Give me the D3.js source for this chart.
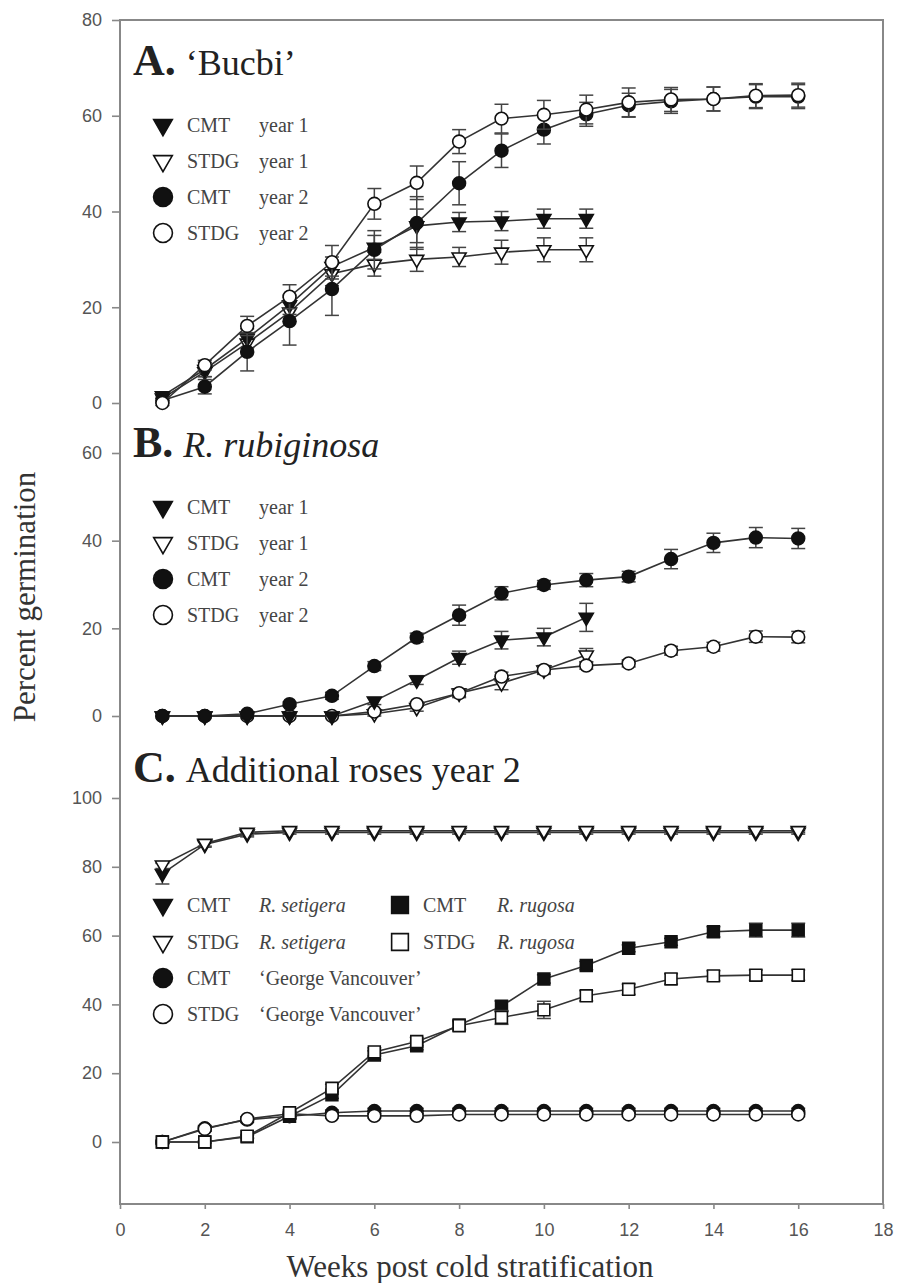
<!DOCTYPE html>
<html>
<head>
<meta charset="utf-8">
<script src="https://d3js.org/d3.v7.min.js"></script>
<style>
  body { margin: 0; background: #fff; }
  svg { display: block; }
  .tick text { font-family: "Liberation Sans", Arial, sans-serif; font-size: 18px; fill: #555; }
  .tick line { stroke: #888; stroke-width: 1.6; }
  .serif { font-family: "Liberation Serif", "Times New Roman", serif; }
</style>
</head>
<body>
<div id="chart-area"></div>
<script>
// weeks post cold stratification
var weeks = [1, 2, 3, 4, 5, 6, 7, 8, 9, 10, 11, 12, 13, 14, 15, 16];
var xTicks = [0, 2, 4, 6, 8, 10, 12, 14, 16, 18];

// Panel A  'Bucbi'
var aCmtY1     = [1.5, 7, 13.5, 20.5, 28.5, 32.5, 37, 37.8, 38, 38.5, 38.5];
var aCmtY1Err  = [0.5, 1.5, 2, 2, 2, 2.5, 3.5, 2, 2, 2, 2];
var aStdgY1    = [1, 6.5, 12.5, 19, 27, 29, 30, 30.5, 31.5, 32, 32];
var aStdgY1Err = [0.5, 1, 2, 2, 2.5, 2.5, 2.5, 2, 2.5, 2.5, 2.5];
var aCmtY2     = [0.5, 3.4, 10.7, 17.1, 23.8, 32, 37.6, 45.9, 52.7, 57.1, 60.3, 62.2, 63, 63.5, 64, 64];
var aCmtY2Err  = [0.5, 1.5, 4, 5, 5.5, 4, 5.5, 4.5, 3.5, 3, 2.5, 2.5, 2.5, 2.5, 2.5, 2.5];
var aStdgY2    = [0, 7.9, 16.1, 22.2, 29.4, 41.6, 46, 54.6, 59.4, 60.2, 61.3, 62.8, 63.4, 63.5, 64.2, 64.3];
var aStdgY2Err = [0.5, 1, 2, 2.5, 3.5, 3.2, 3.5, 2.5, 3, 3, 3, 3, 2.5, 2.5, 2.5, 2.5];
var aTicks = [0, 20, 40, 60, 80];

// Panel B  R. rubiginosa
var bCmtY1     = [0, 0, 0, 0, 0, 3.4, 8.2, 13.3, 17.3, 18, 22.5];
var bCmtY1Err  = [0, 0, 0, 0, 0, 0.8, 1, 1.5, 2, 2, 3.2];
var bStdgY1    = [0, 0, 0, 0, 0, 0.5, 1.9, 5.2, 7.5, 10.5, 13.9];
var bStdgY1Err = [0, 0, 0, 0, 0, 0.5, 0.8, 1, 1.5, 1, 1.5];
var bCmtY2     = [0, 0, 0.5, 2.7, 4.6, 11.4, 17.9, 23, 28, 29.9, 31, 31.8, 35.8, 39.5, 40.7, 40.5];
var bCmtY2Err  = [0, 0, 0.3, 0.5, 0.8, 1, 1, 2.3, 1.5, 1, 1.5, 1.2, 2.2, 2.2, 2.3, 2.3];
var bStdgY2    = [0, 0, 0, 0, 0, 1, 2.7, 5.2, 9, 10.5, 11.5, 12, 14.9, 15.8, 18.1, 18];
var bStdgY2Err = [0, 0, 0, 0, 0, 0.5, 0.5, 0.8, 1, 0.8, 0.8, 0.8, 1, 1, 1.3, 1.3];
var bTicks = [0, 20, 40, 60];

// Panel C  additional roses year 2
var cCmtSet     = [78, 86.5, 89.5, 90, 90, 90, 90, 90, 90, 90, 90, 90, 90, 90, 90, 90];
var cCmtSetErr  = [3, 0.8, 0.8, 0.5, 0.5, 0.5, 0.5, 0.5, 0.5, 0.5, 0.5, 0.5, 0.5, 0.5, 0.5, 0.5];
var cStdgSet    = [80.5, 86.8, 90, 90.5, 90.5, 90.5, 90.5, 90.5, 90.5, 90.5, 90.5, 90.5, 90.5, 90.5, 90.5, 90.5];
var cStdgSetErr = [1, 0.8, 0.8, 0.5, 0.5, 0.5, 0.5, 0.5, 0.5, 0.5, 0.5, 0.5, 0.5, 0.5, 0.5, 0.5];
var cCmtGV      = [0, 4, 6.5, 7.5, 8.5, 9, 9, 9, 9, 9, 9, 9, 9, 9, 9, 9];
var cCmtGVErr   = [0.3, 0.8, 0.8, 0.8, 0.8, 0.8, 0.8, 0.8, 0.8, 0.8, 0.8, 0.8, 0.8, 0.8, 0.8, 0.8];
var cStdgGV     = [0, 3.8, 6.7, 8.2, 7.6, 7.6, 7.6, 8, 8, 8, 8, 8, 8, 8, 8, 8];
var cStdgGVErr  = [0.3, 0.6, 0.6, 0.6, 0.6, 0.6, 0.6, 0.6, 0.6, 0.6, 0.6, 0.6, 0.6, 0.6, 0.6, 0.6];
var cCmtRug     = [0, 0, 1.5, 7.5, 13.7, 25.3, 28, 34, 39.5, 47.4, 51.3, 56.3, 58.2, 61.1, 61.6, 61.6];
var cCmtRugErr  = [0.3, 0.3, 0.5, 0.8, 1, 1.2, 1.2, 1.2, 1.5, 1.2, 1.2, 1, 1, 1.5, 2, 2];
var cStdgRug    = [0, 0, 1.7, 8.5, 15.6, 26.2, 29.2, 33.8, 36.2, 38.4, 42.5, 44.4, 47.4, 48.3, 48.5, 48.5];
var cStdgRugErr = [0.3, 0.3, 0.5, 0.8, 1.2, 1.2, 1.2, 1.2, 2, 2.5, 1.5, 1.5, 1.5, 1.5, 1.5, 1.5];
var cTicks = [0, 20, 40, 60, 80, 100];

var W = 897, H = 1283;
var frame = { left: 120, right: 883, top: 20, bottom: 1204 };

var svg = d3.select("#chart-area")
    .append("svg")
        .attr("width", W)
        .attr("height", H);

var x = d3.scaleLinear().domain([0, 18]).range([frame.left, frame.right]);

// each panel gets its own y scale on the shared axis
var yA = d3.scaleLinear().domain([0, 80]).range([403, 20]);
var yB = d3.scaleLinear().domain([0, 60]).range([716, 453]);
var yC = d3.scaleLinear().domain([0, 100]).range([1142, 798]);

var lineCol = "#333";

// marker shapes: [d3 symbol type, filled?, rotation]
var shapes = {
    triFill:  [d3.symbolTriangle, true, 180],
    triOpen:  [d3.symbolTriangle, false, 180],
    circFill: [d3.symbolCircle, true, 0],
    circOpen: [d3.symbolCircle, false, 0],
    sqFill:   [d3.symbolSquare, true, 0],
    sqOpen:   [d3.symbolSquare, false, 0]
};
var dataSize = { triFill: 85, triOpen: 85, circFill: 130, circOpen: 130, sqFill: 140, sqOpen: 140 };
var legendSize = { triFill: 150, triOpen: 150, circFill: 280, circOpen: 280, sqFill: 280, sqOpen: 280 };

function symbolPath(shape, size) {
    return d3.symbol().type(shapes[shape][0]).size(size)();
}

function drawMarker(sel, shape, size, cx, cy) {
    sel.append("path")
        .attr("d", symbolPath(shape, size))
        .attr("transform", "translate(" + cx + "," + cy + ") rotate(" + shapes[shape][2] + ")")
        .attr("fill", shapes[shape][1] ? "#111" : "#fff")
        .attr("stroke", "#111")
        .attr("stroke-width", 1.6);
}

function drawSeries(y, vals, errs, shape) {
    var pts = vals.map(function(v, i) { return { wk: weeks[i], v: v, e: errs[i] }; });
    var g = svg.append("g");

    // error bars
    var capW = 7;
    pts.forEach(function(d) {
        if (d.e <= 0) return;
        var cx = x(d.wk), y1 = y(d.v + d.e), y0 = y(d.v - d.e);
        g.append("line").attr("x1", cx).attr("x2", cx).attr("y1", y1).attr("y2", y0)
            .attr("stroke", "#444").attr("stroke-width", 1.5);
        [y1, y0].forEach(function(yy) {
            g.append("line").attr("x1", cx - capW).attr("x2", cx + capW).attr("y1", yy).attr("y2", yy)
                .attr("stroke", "#444").attr("stroke-width", 1.5);
        });
    });

    var line = d3.line()
        .x(function(d) { return x(d.wk); })
        .y(function(d) { return y(d.v); });

    g.append("path")
        .datum(pts)
        .attr("d", line)
        .attr("fill", "none")
        .attr("stroke", lineCol)
        .attr("stroke-width", 1.6);

    pts.forEach(function(d) {
        drawMarker(g, shape, dataSize[shape], x(d.wk), y(d.v));
    });
}

function drawLegend(rows, sx, tx1, tx2) {
    rows.forEach(function(r) {
        drawMarker(svg, r.shape, legendSize[r.shape], sx, r.cy);
        svg.append("text").attr("class", "serif")
            .attr("x", tx1).attr("y", r.cy + 7)
            .attr("font-size", "20px").attr("fill", "#444")
            .text(r.t1);
        svg.append("text").attr("class", "serif")
            .attr("x", tx2).attr("y", r.cy + 7)
            .attr("font-size", "20px").attr("fill", "#444")
            .attr("font-style", r.italic ? "italic" : "normal")
            .text(r.t2);
    });
}

function drawTitle(letter, rest, italic, baseY) {
    var t = svg.append("text").attr("class", "serif")
        .attr("x", 133).attr("y", baseY).attr("fill", "#222");
    t.append("tspan").attr("font-size", "44px").attr("font-weight", "bold").text(letter);
    t.append("tspan").attr("font-size", "36px").attr("dx", 10)
        .attr("font-style", italic ? "italic" : "normal").text(rest);
}

// frame
svg.append("rect")
    .attr("x", frame.left).attr("y", frame.top)
    .attr("width", frame.right - frame.left).attr("height", frame.bottom - frame.top)
    .attr("fill", "none").attr("stroke", "#888").attr("stroke-width", 2);

// Y axes (one per panel, on the same left line)
[[yA, aTicks], [yB, bTicks], [yC, cTicks]].forEach(function(p) {
    var ax = svg.append("g")
        .attr("transform", "translate(" + frame.left + ",0)")
        .call(d3.axisLeft(p[0]).tickValues(p[1]).tickSize(8).tickPadding(10));
    ax.select(".domain").remove();
});

// X axis
var xAxisGroup = svg.append("g")
    .attr("transform", "translate(0," + frame.bottom + ")")
    .call(d3.axisBottom(x).tickValues(xTicks).tickSize(5).tickPadding(14));
xAxisGroup.select(".domain").remove();

// Labels
svg.append("text").attr("class", "serif")
    .attr("x", 470).attr("y", 1277)
    .attr("font-size", "31px").attr("fill", "#333")
    .attr("text-anchor", "middle")
    .text("Weeks post cold stratification");

svg.append("text").attr("class", "serif")
    .attr("transform", "translate(35,597) rotate(-90)")
    .attr("font-size", "31px").attr("fill", "#333")
    .attr("text-anchor", "middle")
    .text("Percent germination");

// Panel A
drawTitle("A.", "\u2018Bucbi\u2019", false, 75);
drawSeries(yA, aStdgY1, aStdgY1Err, "triOpen");
drawSeries(yA, aCmtY1, aCmtY1Err, "triFill");
drawSeries(yA, aCmtY2, aCmtY2Err, "circFill");
drawSeries(yA, aStdgY2, aStdgY2Err, "circOpen");
drawLegend([
    { shape: "triFill", cy: 125, t1: "CMT", t2: "year 1" },
    { shape: "triOpen", cy: 161, t1: "STDG", t2: "year 1" },
    { shape: "circFill", cy: 197, t1: "CMT", t2: "year 2" },
    { shape: "circOpen", cy: 233, t1: "STDG", t2: "year 2" }
], 163, 187, 259);

// Panel B
drawTitle("B.", "R. rubiginosa", true, 457);
drawSeries(yB, bStdgY1, bStdgY1Err, "triOpen");
drawSeries(yB, bStdgY2, bStdgY2Err, "circOpen");
drawSeries(yB, bCmtY1, bCmtY1Err, "triFill");
drawSeries(yB, bCmtY2, bCmtY2Err, "circFill");
drawLegend([
    { shape: "triFill", cy: 507, t1: "CMT", t2: "year 1" },
    { shape: "triOpen", cy: 543, t1: "STDG", t2: "year 1" },
    { shape: "circFill", cy: 579, t1: "CMT", t2: "year 2" },
    { shape: "circOpen", cy: 615, t1: "STDG", t2: "year 2" }
], 163, 187, 259);

// Panel C
drawTitle("C.", "Additional roses year 2", false, 782);
drawSeries(yC, cCmtSet, cCmtSetErr, "triFill");
drawSeries(yC, cStdgSet, cStdgSetErr, "triOpen");
drawSeries(yC, cCmtGV, cCmtGVErr, "circFill");
drawSeries(yC, cStdgGV, cStdgGVErr, "circOpen");
drawSeries(yC, cCmtRug, cCmtRugErr, "sqFill");
drawSeries(yC, cStdgRug, cStdgRugErr, "sqOpen");
drawLegend([
    { shape: "triFill", cy: 905, t1: "CMT", t2: "R. setigera", italic: true },
    { shape: "triOpen", cy: 942, t1: "STDG", t2: "R. setigera", italic: true },
    { shape: "circFill", cy: 978, t1: "CMT", t2: "\u2018George Vancouver\u2019" },
    { shape: "circOpen", cy: 1014, t1: "STDG", t2: "\u2018George Vancouver\u2019" }
], 163, 187, 259);
drawLegend([
    { shape: "sqFill", cy: 905, t1: "CMT", t2: "R. rugosa", italic: true },
    { shape: "sqOpen", cy: 942, t1: "STDG", t2: "R. rugosa", italic: true }
], 400, 423, 497);
</script>
</body>
</html>
